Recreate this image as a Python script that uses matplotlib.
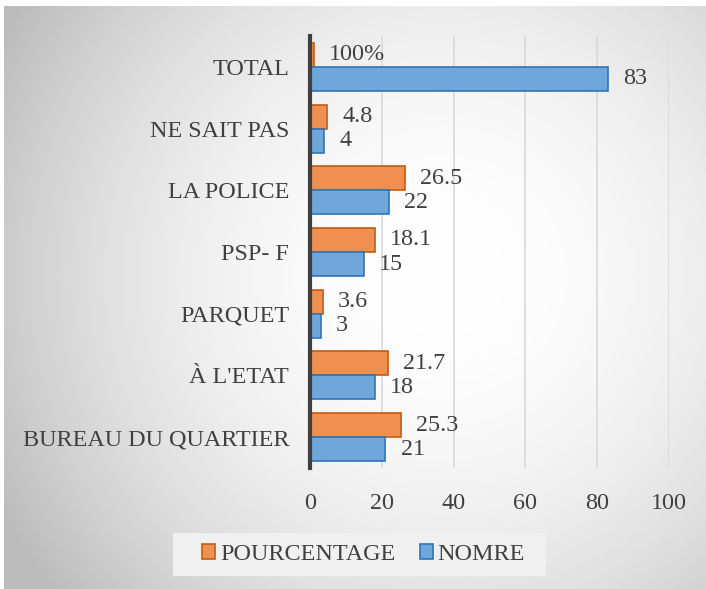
import matplotlib.pyplot as plt
from matplotlib.patches import Rectangle
import numpy as np

categories = ['BUREAU DU QUARTIER', "À L'ETAT", 'PARQUET', 'PSP- F', 'LA POLICE', 'NE SAIT PAS', 'TOTAL']
pourcentage = [25.3, 21.7, 3.6, 18.1, 26.5, 4.8, 1.0]
pourcentage_labels = ['25.3', '21.7', '3.6', '18.1', '26.5', '4.8', '100%']
nombre = [21, 18, 3, 15, 22, 4, 83]
xticks = [0, 20, 40, 60, 80, 100]

plt.rcParams['font.family'] = ['Liberation Serif', 'DejaVu Serif']
txt = '#404040'
fs = 17.4

fig = plt.figure(figsize=(7.06, 5.89), dpi=100)
fig.patch.set_facecolor('white')

# radial grey gradient background
bg = fig.add_axes([4 / 706, 0, 1 - 4 / 706, 1 - 6 / 589])
h, w = 583, 702
yy, xx = np.mgrid[0:h, 0:w]
r = np.sqrt((xx - 440) ** 2 + (yy - 270) ** 2)
val = np.clip(1.0 - 0.24 * (r / 480) ** 2.0, 0.74, 1.0)
bg.imshow(np.dstack([val, val, val]), aspect='auto', interpolation='bilinear')
bg.set_axis_off()

ax = fig.add_axes([310 / 706, 121 / 589, 359 / 706, 432 / 589])
ax.set_facecolor('none')

y = np.arange(len(categories))
bh = 0.39
b1 = ax.barh(y + bh / 2, pourcentage, height=bh, color='#f09050', edgecolor='#c55a11',
             linewidth=1.2, label='POURCENTAGE', zorder=3)
b2 = ax.barh(y - bh / 2, nombre, height=bh, color='#70a6da', edgecolor='#2e75b6',
             linewidth=1.2, label='NOMRE', zorder=3)
ax.bar_label(b1, labels=pourcentage_labels, padding=11, fontsize=fs, color=txt)
ax.bar_label(b2, labels=[str(v) for v in nombre], padding=11, fontsize=fs, color=txt)

ax.set_xlim(0, 100)
ax.set_ylim(-0.5, len(categories) - 0.5)
ax.set_xticks(xticks)
ax.set_yticks(y)
ax.set_yticklabels(categories)
ax.tick_params(axis='both', length=0, labelsize=fs, labelcolor=txt)
ax.tick_params(axis='y', pad=15)
ax.tick_params(axis='x', pad=18)
ax.grid(axis='x', color='#d9d9d9', linewidth=1.2, zorder=0)
for s in ['top', 'right', 'bottom']:
    ax.spines[s].set_visible(False)
ax.spines['left'].set_color('#404040')
ax.spines['left'].set_linewidth(3)
ax.spines['left'].set_zorder(4)

# legend box
fig.patches.append(Rectangle((173 / 706, 1 - 576 / 589), 373 / 706, 43 / 589,
                             transform=fig.transFigure, facecolor='#f0f0f0',
                             edgecolor='none', zorder=1))
leg = fig.legend(handles=[b1, b2], loc='center', bbox_to_anchor=(363.5 / 706, 1 - 554.5 / 589),
                 ncol=2, fontsize=fs, frameon=False, handlelength=0.55,
                 handleheight=0.55, handletextpad=0.2, columnspacing=1.0, borderpad=0.3,
                 borderaxespad=0)
for t in leg.get_texts():
    t.set_color(txt)

fig.savefig('out.png', dpi=100)
